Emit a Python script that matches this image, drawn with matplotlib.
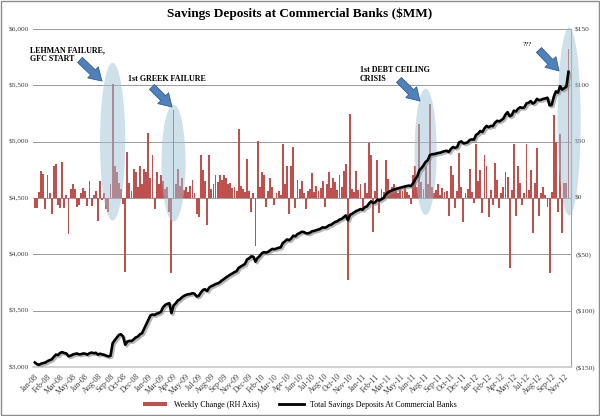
import matplotlib
matplotlib.use("Agg")
import matplotlib.pyplot as plt
import matplotlib.patheffects as pe
from matplotlib.patches import Ellipse, Rectangle, Patch
from matplotlib.lines import Line2D
import numpy as np

plt.rcParams['font.family'] = ['Liberation Serif', 'DejaVu Serif']

# weekly change in savings deposits (right axis)
weekly_change = [
    -9, -9, 5, 24, 21, -10, 20, 4, -14, 28,
    30, -6, -9, 32, -9, 3, -32, 8, 12, 8,
    -8, -6, 4, 9, 6, -7, 15, -7, 3, 6,
    -20, 15, -2, 4, -10, -12, 12, 101, 28, 23,
    13, 8, -5, -66, 41, 13, 6, 26, 23, 10,
    28, 12, 26, 23, 58, 18, 38, -10, 23, 12,
    20, 15, 8, 10, -12, -67, 78, 12, 26, 11,
    18, 7, 10, 5, 11, 16, 4, -14, -17, 38,
    25, 15, -24, 38, 8, 12, 20, 14, 20, 16,
    20, 18, 12, 13, 9, 10, 6, 61, 11, 8,
    5, 35, 6, -12, 4, -43, 51, 10, 23, 20,
    -8, 6, 18, 10, -6, 4, 6, 3, 48, 12,
    28, -14, 28, 45, -9, 16, 8, 15, 4, -10,
    6, 8, 22, 5, 11, 6, 9, 15, -8, 12,
    23, 9, 18, 14, 7, 20, 10, 24, 30, -73,
    75, 8, 5, 24, 7, 12, -10, 13, 4, 49,
    38, -30, 6, 34, -13, 8, 5, 34, 17, 6,
    10, 12, 7, 4, 9, 6, 11, 5, 3, -5,
    20, 28, 10, 66, 14, 8, 28, 12, 83, 10,
    4, 7, 12, 3, 9, 5, 6, -16, 28, 20,
    -9, 6, 40, 10, -21, 4, 8, 26, 5, -4,
    48, 15, 25, -13, 38, 28, -17, 7, -6, 31,
    16, -9, 4, 10, 23, 19, -62, 7, 48, -16,
    28, 13, -6, 4, 48, 7, 25, -31, 13, 44,
    -16, 4, 10, 3, -8, -67, 5, 74, 50, -12,
    57, -31, 13, 13, 132,
]

# total savings deposits (left axis)
total_deposits = [
    3040, 3025, 3020, 3030, 3036, 3040, 3052, 3060, 3068, 3090,
    3110, 3106, 3125, 3132, 3124, 3120, 3095, 3100, 3110, 3116,
    3120, 3112, 3114, 3120, 3118, 3110, 3122, 3128, 3122, 3126,
    3110, 3118, 3112, 3108, 3100, 3094, 3100, 3210, 3238, 3262,
    3285, 3290, 3270, 3198, 3225, 3232, 3230, 3245, 3262, 3270,
    3290, 3300, 3340, 3380, 3420, 3458, 3466, 3462, 3474, 3478,
    3490, 3530, 3550, 3560, 3566, 3478, 3545, 3565, 3590, 3600,
    3618, 3632, 3640, 3646, 3648, 3655, 3650, 3625, 3632, 3660,
    3684, 3690, 3675, 3705, 3718, 3725, 3736, 3742, 3752, 3768,
    3780, 3795, 3808, 3820, 3830, 3842, 3850, 3880, 3892, 3905,
    3915, 3955, 3965, 3982, 3978, 3935, 3968, 3985, 4008, 4020,
    4015, 4022, 4036, 4048, 4045, 4052, 4058, 4062, 4100, 4115,
    4132, 4125, 4140, 4165, 4160, 4180, 4188, 4200, 4198, 4188,
    4186, 4192, 4205, 4208, 4215, 4220, 4228, 4240, 4236, 4244,
    4258, 4262, 4276, 4288, 4294, 4308, 4314, 4330, 4345, 4302,
    4350, 4360, 4372, 4385, 4392, 4402, 4396, 4418, 4424, 4450,
    4470, 4455, 4462, 4485, 4478, 4490, 4500, 4530, 4548, 4560,
    4568, 4576, 4582, 4586, 4592, 4596, 4602, 4606, 4610, 4606,
    4630, 4665, 4690, 4745, 4765, 4790, 4820, 4835, 4880, 4888,
    4890, 4894, 4900, 4902, 4910, 4915, 4920, 4908, 4935, 4952,
    4945, 4952, 4995, 5002, 4985, 4988, 4994, 5015, 5020, 5018,
    5060, 5072, 5095, 5085, 5118, 5140, 5128, 5140, 5138, 5168,
    5185, 5180, 5190, 5205, 5240, 5262, 5225, 5235, 5275, 5268,
    5292, 5305, 5300, 5305, 5340, 5345, 5360, 5338, 5350, 5380,
    5368, 5372, 5380, 5384, 5390, 5322, 5326, 5398, 5446, 5436,
    5492, 5462, 5475, 5488, 5620,
]

# one label every 6 weeks
tick_labels = [
    'Jan-08', 'Feb-08', 'Mar-08', 'May-08', 'Jun-08', 'Aug-08', 'Sep-08',
    'Oct-08', 'Dec-08', 'Jan-09', 'Mar-09', 'Apr-09', 'May-09', 'Jul-09',
    'Aug-09', 'Sep-09', 'Nov-09', 'Dec-09', 'Feb-10', 'Mar-10', 'Apr-10',
    'Jun-10', 'Jul-10', 'Aug-10', 'Oct-10', 'Nov-10', 'Jan-11', 'Feb-11',
    'Mar-11', 'May-11', 'Jun-11', 'Aug-11', 'Sep-11', 'Oct-11', 'Dec-11',
    'Jan-12', 'Feb-12', 'Apr-12', 'May-12', 'Jul-12', 'Aug-12', 'Sep-12',
    'Nov-12',
]

left_ticks = [3000, 3500, 4000, 4500, 5000, 5500, 6000]
left_labels = ['$3,000', '$3,500', '$4,000', '$4,500', '$5,000', '$5,500', '$6,000']
right_ticks = [-150, -100, -50, 0, 50, 100, 150]
right_labels = ['($150)', '($100)', '($50)', '$0', '$50', '$100', '$150']

weeks = np.arange(len(weekly_change))

fig = plt.figure(figsize=(6, 4.16), dpi=100)
ax = fig.add_axes([33 / 600, 1 - 367 / 416, (571 - 33) / 600, (367 - 29) / 416])
ax2 = ax.twinx()

# bars on right axis
ax2.bar(weeks, weekly_change, width=0.9, color='#c0504d', linewidth=0,
        antialiased=False, zorder=2)
ax2.set_ylim(-150, 150)
ax2.set_yticks(right_ticks)
ax2.set_yticklabels(right_labels)

# highlight ellipses (week, center, width, height) in right-axis units
for wk, yc, w, h in [(37, 50, 12, 140), (66, 31, 11.5, 104), (186, 41, 10.5, 112), (254.3, 68, 11, 167)]:
    e = Ellipse((wk, yc), w, h, facecolor='#9fc2d6', edgecolor='none', alpha=0.5,
                zorder=3, clip_on=False)
    ax2.add_patch(e)

# line on left axis, drawn on top
ax.plot(weeks, total_deposits, color='black', lw=1.9, zorder=4,
        path_effects=[pe.SimpleLineShadow(offset=(1.2, -1.2), shadow_color='#888888', alpha=0.6),
                      pe.Normal()])
ax.set_zorder(ax2.get_zorder() + 1)
ax.patch.set_visible(False)
ax.set_ylim(3000, 6000)
ax.set_yticks(left_ticks)
ax.set_yticklabels(left_labels)
ax.set_xlim(-0.9, 255.2)
ax.set_xticks(weeks[::6])
ax.set_xticklabels(tick_labels, rotation=45, ha='right', rotation_mode='anchor')

for a in (ax, ax2):
    a.tick_params(length=0, labelsize=5.3, colors='#404040', pad=3)
    for s in a.spines.values():
        s.set_visible(False)
ax.tick_params(axis='x', pad=4, labelsize=5.8)
ax2.spines['right'].set_visible(True)
ax2.spines['right'].set_color('#a0a0a0')
ax2.spines['bottom'].set_visible(True)
ax2.spines['bottom'].set_color('#c8c8c8')
ax2.spines['bottom'].set_linewidth(1.2)
ax2.grid(axis='y', color='#9a9a9a', lw=0.7, zorder=0)
ax2.set_axisbelow(True)

# title
fig.text(0.5, 1 - 14 / 416, 'Savings Deposits at Commercial Banks ($MM)',
         ha='center', va='center', fontsize=9.5, fontweight='bold')

# annotations
fig.text(30 / 600, 1 - 46 / 416, 'LEHMAN FAILURE,\nGFC START', ha='left', va='top',
         fontsize=5.8, fontweight='bold', linespacing=1.1)
fig.text(128 / 600, 1 - 79 / 416, '1st GREEK FAILURE', ha='left', va='center',
         fontsize=5.8, fontweight='bold')
fig.text(360 / 600, 1 - 66 / 416, '1st DEBT CEILING\nCRISIS', ha='left', va='top',
         fontsize=5.8, fontweight='bold', linespacing=1.1)
fig.text(527 / 600, 1 - 45 / 416, '???', ha='center', va='center', fontsize=5)

arrows = [((78, 58), (104, 83)), ((150, 85), (174, 109)),
          ((397, 78), (422, 103)), ((537, 48), (561, 73))]
for (tx, ty), (hx, hy) in arrows:
    ax.annotate('', xy=(hx, 416 - hy), xytext=(tx, 416 - ty),
                xycoords='figure pixels', textcoords='figure pixels',
                arrowprops=dict(arrowstyle='simple,head_length=0.9,head_width=1.1,tail_width=0.5',
                                mutation_scale=10, fc='#4f81bd', ec='#385d8a', lw=0.6),
                annotation_clip=False)

# legend
handles = [Patch(facecolor='#c0504d', edgecolor='none'),
           Line2D([], [], color='black', lw=2)]
fig.legend(handles, ['Weekly Change (RH Axis)', 'Total Savings Deposits At Commercial Banks'],
           loc='center', bbox_to_anchor=(0.5, 1 - 405 / 416), ncol=2, frameon=False,
           fontsize=5.8, handlelength=3, handleheight=0.5, columnspacing=2.5)

# outer chart border
fig.patches.append(Rectangle((0.002, 0.002), 0.996, 0.996, transform=fig.transFigure,
                             fill=False, edgecolor='#8c8c8c', lw=1))

fig.savefig('out.png', dpi=100)
